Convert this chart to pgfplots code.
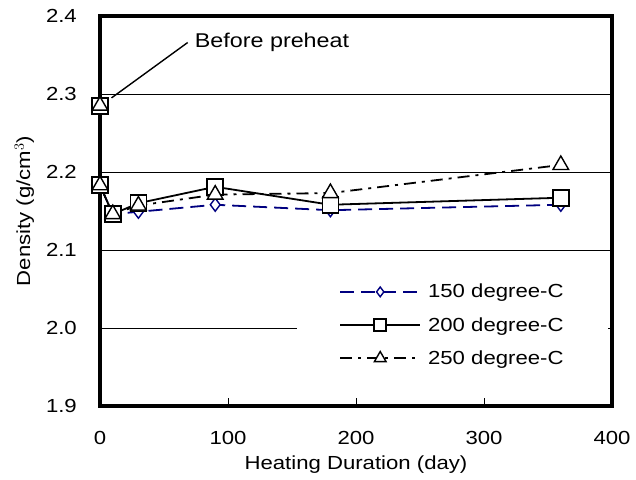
\documentclass[border=0pt]{standalone}
\usepackage{fontspec}
\setmainfont{Liberation Sans}[FakeStretch=1.17]
\usepackage{pgfplots}
\pgfplotsset{compat=1.18}
\definecolor{navyb}{RGB}{0,0,128}
\newcommand\chartfont{\fontsize{19}{22}\selectfont}
\begin{document}
\begin{tikzpicture}[x=1bp,y=1bp]
\useasboundingbox (0,0) rectangle (636,480);
\begin{axis}[
    at={(100bp,74bp)}, anchor=south west,
    width=512bp, height=390bp, scale only axis,
    xmin=0, xmax=400, ymin=1.9, ymax=2.4,
    xtick={0,100,200,300,400}, ytick={1.9,2.0,...,2.4},
    yticklabel style={/pgf/number format/fixed, /pgf/number format/fixed zerofill,
        /pgf/number format/precision=1, anchor=east, inner xsep=0pt, xshift=-23bp},
    xticklabel style={anchor=center, yshift=-32bp},
    /pgf/number format/assume math mode=true,
    ymajorgrids, major grid style={black, line width=0.8bp},
    axis line style={line width=3.2bp},
    tick style={black, line width=0.8bp},
    xtick pos=bottom, ytick pos=left,
    major tick length=8bp,
    ytick style={draw=none},
    tick label style={font=\chartfont},
    label style={font=\chartfont},
    xlabel={Heating Duration (day)},
    ylabel={Density (g/cm$^3$)},
    xlabel style={at={(axis description cs:0.5,-0.149)}, anchor=center},
    ylabel style={at={(axis description cs:-0.148,0.5)}, anchor=center},
    clip=false,
    legend style={at={(0.385,0.328)}, anchor=north west, draw=none, fill=white,
        font=\chartfont, row sep=14bp, inner xsep=42bp, inner ysep=4bp,
        cells={anchor=west}},
    legend image code/.code={%
        \draw[mark repeat=2,mark phase=2, every mark/.append style={scale=0.75}]
        plot coordinates {(0bp,0bp)(40bp,0bp)(80bp,0bp)};
        \path (85bp,0bp);},
]
\addplot[navyb, line width=1.8bp, dash pattern=on 14bp off 7bp, mark=diamond*,
    mark size=6.5bp, mark options={solid, fill=white, line width=1.4bp}]
    coordinates {(0,2.285) (0,2.183) (10,2.146) (30,2.149) (90,2.158) (180,2.151) (360,2.158)};
\addlegendentry{150 degree-C}
\addplot[black, line width=1.8bp, mark=square*,
    mark size=8bp, mark options={solid, fill=white, line width=1.8bp}]
    coordinates {(0,2.285) (0,2.183) (10,2.146) (30,2.160) (90,2.181) (180,2.158) (360,2.167)};
\addlegendentry{200 degree-C}
\addplot[black, line width=1.8bp, dash pattern=on 12bp off 6bp on 3bp off 6bp, mark=triangle*,
    mark size=9bp, mark options={solid, fill=white, line width=1.4bp}]
    coordinates {(0,2.285) (0,2.183) (10,2.146) (30,2.157) (90,2.171) (180,2.173) (360,2.209)};
\addlegendentry{250 degree-C}
\draw[black, line width=1.4bp] (axis cs:9,2.295) -- (axis cs:68.5,2.366);
\node[anchor=west, font=\fontsize{20}{24}\selectfont, inner sep=0pt] at (axis cs:74,2.366) {Before preheat};
\end{axis}
\end{tikzpicture}
\end{document}
